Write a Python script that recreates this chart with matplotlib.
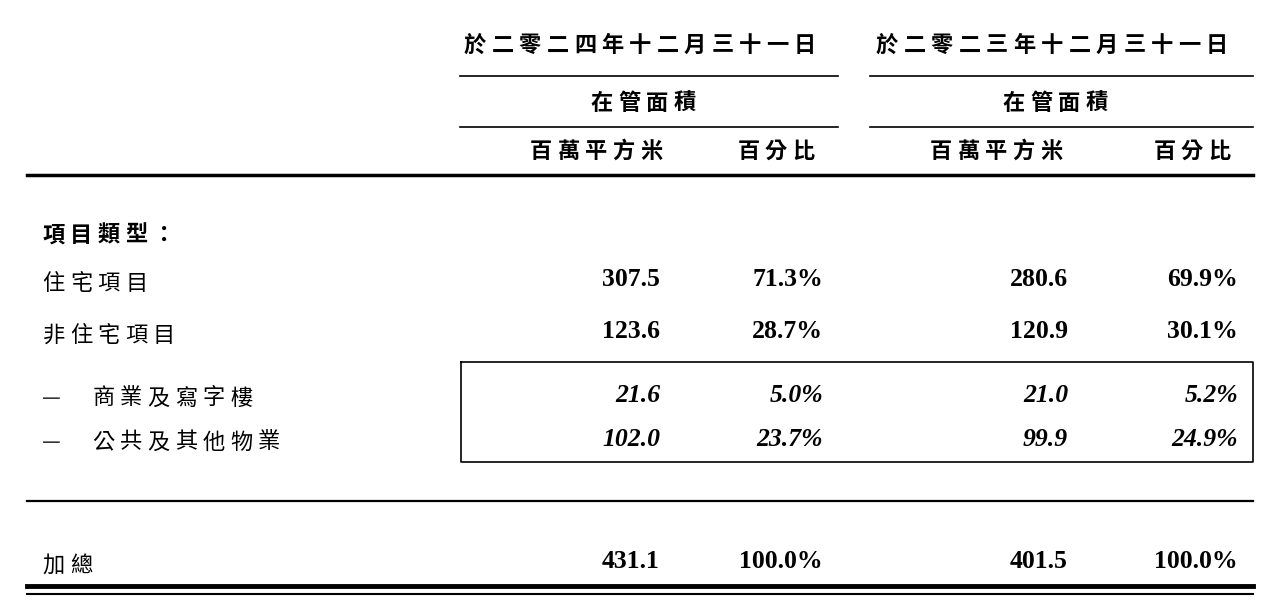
import matplotlib.pyplot as plt

plt.rcParams['font.family'] = ['Noto Sans CJK TC', 'DejaVu Sans']

# ---- table data ----
periods = ["於二零二四年十二月三十一日", "於二零二三年十二月三十一日"]
sub_header = "在管面積"
col_names = ["百萬平方米", "百分比"]
section = "項目類型："
row_labels = ["住宅項目", "非住宅項目", "商業及寫字樓", "公共及其他物業"]
area_2024 = [307.5, 123.6, 21.6, 102.0]
share_2024 = [71.3, 28.7, 5.0, 23.7]
area_2023 = [280.6, 120.9, 21.0, 99.9]
share_2023 = [69.9, 30.1, 5.2, 24.9]
total_label = "加總"
total_area = [431.1, 401.5]
total_share = [100.0, 100.0]

fig = plt.figure(figsize=(12.84, 6.12), dpi=100)
ax = fig.add_axes([0, 0, 1, 1])
ax.set_xlim(0, 1284)
ax.set_ylim(612, 0)
ax.axis("off")

num_font = dict(family="Liberation Serif", fontsize=18.5, fontweight="bold")
PITCH = 27.5


def spaced(text, x, y, align="left", **kw):
    # CJK text with wide fixed letter spacing, like the original report
    n = len(text)
    if align == "center":
        x0 = x - (n - 1) * PITCH / 2
    else:
        x0 = x + PITCH / 2 - 2
    for k, ch in enumerate(text):
        ax.text(x0 + k * PITCH, y, ch, ha="center", va="center", fontsize=16, **kw)


# header
centers = [640, 1052]
spans = [(460, 838), (870, 1253)]
col_centers = [(596, 776), (996, 1192)]
for i in range(2):
    spaced(periods[i], centers[i], 45, "center", fontweight="bold")
    ax.plot(spans[i], [76, 76], color="black", lw=1.2)
    spaced(sub_header, centers[i] + 3, 103, "center", fontweight="bold")
    ax.plot(spans[i], [127, 127], color="black", lw=1.2)
    for c, name in zip(col_centers[i], col_names):
        spaced(name, c, 151, "center", fontweight="bold")
ax.plot([27, 1253], [175, 175], color="black", lw=2.5)

spaced(section, 42, 235, fontweight="bold")

# rows
row_y = [283, 335, 398, 442]
num_x = [660, 823, 1068, 1238]
for j, lab in enumerate(row_labels):
    y = row_y[j]
    italic = j >= 2
    style = "italic" if italic else "normal"
    if italic:
        ax.text(42, y, "—", ha="left", va="center", fontsize=15, color="#333")
        spaced(lab, 92, y, style="italic")
    else:
        spaced(lab, 42, y)
    vals = [f"{area_2024[j]:.1f}", f"{share_2024[j]:.1f}%",
            f"{area_2023[j]:.1f}", f"{share_2023[j]:.1f}%"]
    for x, v in zip(num_x, vals):
        ax.text(x, y - 3, v, ha="right", va="center", style=style, **num_font)

# box around sub-items
ax.plot([461, 1253, 1253, 461, 461], [362, 362, 462, 462, 362], color="black", lw=1.2)

ax.plot([27, 1253], [501, 501], color="black", lw=1.6)

spaced(total_label, 42, 565)
tvals = [f"{total_area[0]:.1f}", f"{total_share[0]:.1f}%",
         f"{total_area[1]:.1f}", f"{total_share[1]:.1f}%"]
for x, v in zip(num_x, tvals):
    ax.text(x, 562, v, ha="right", va="center", **num_font)

ax.plot([27, 1253], [586, 586], color="black", lw=3.5)
ax.plot([27, 1253], [594, 594], color="black", lw=1.5)

fig.savefig("out.png", dpi=100, facecolor="white")
